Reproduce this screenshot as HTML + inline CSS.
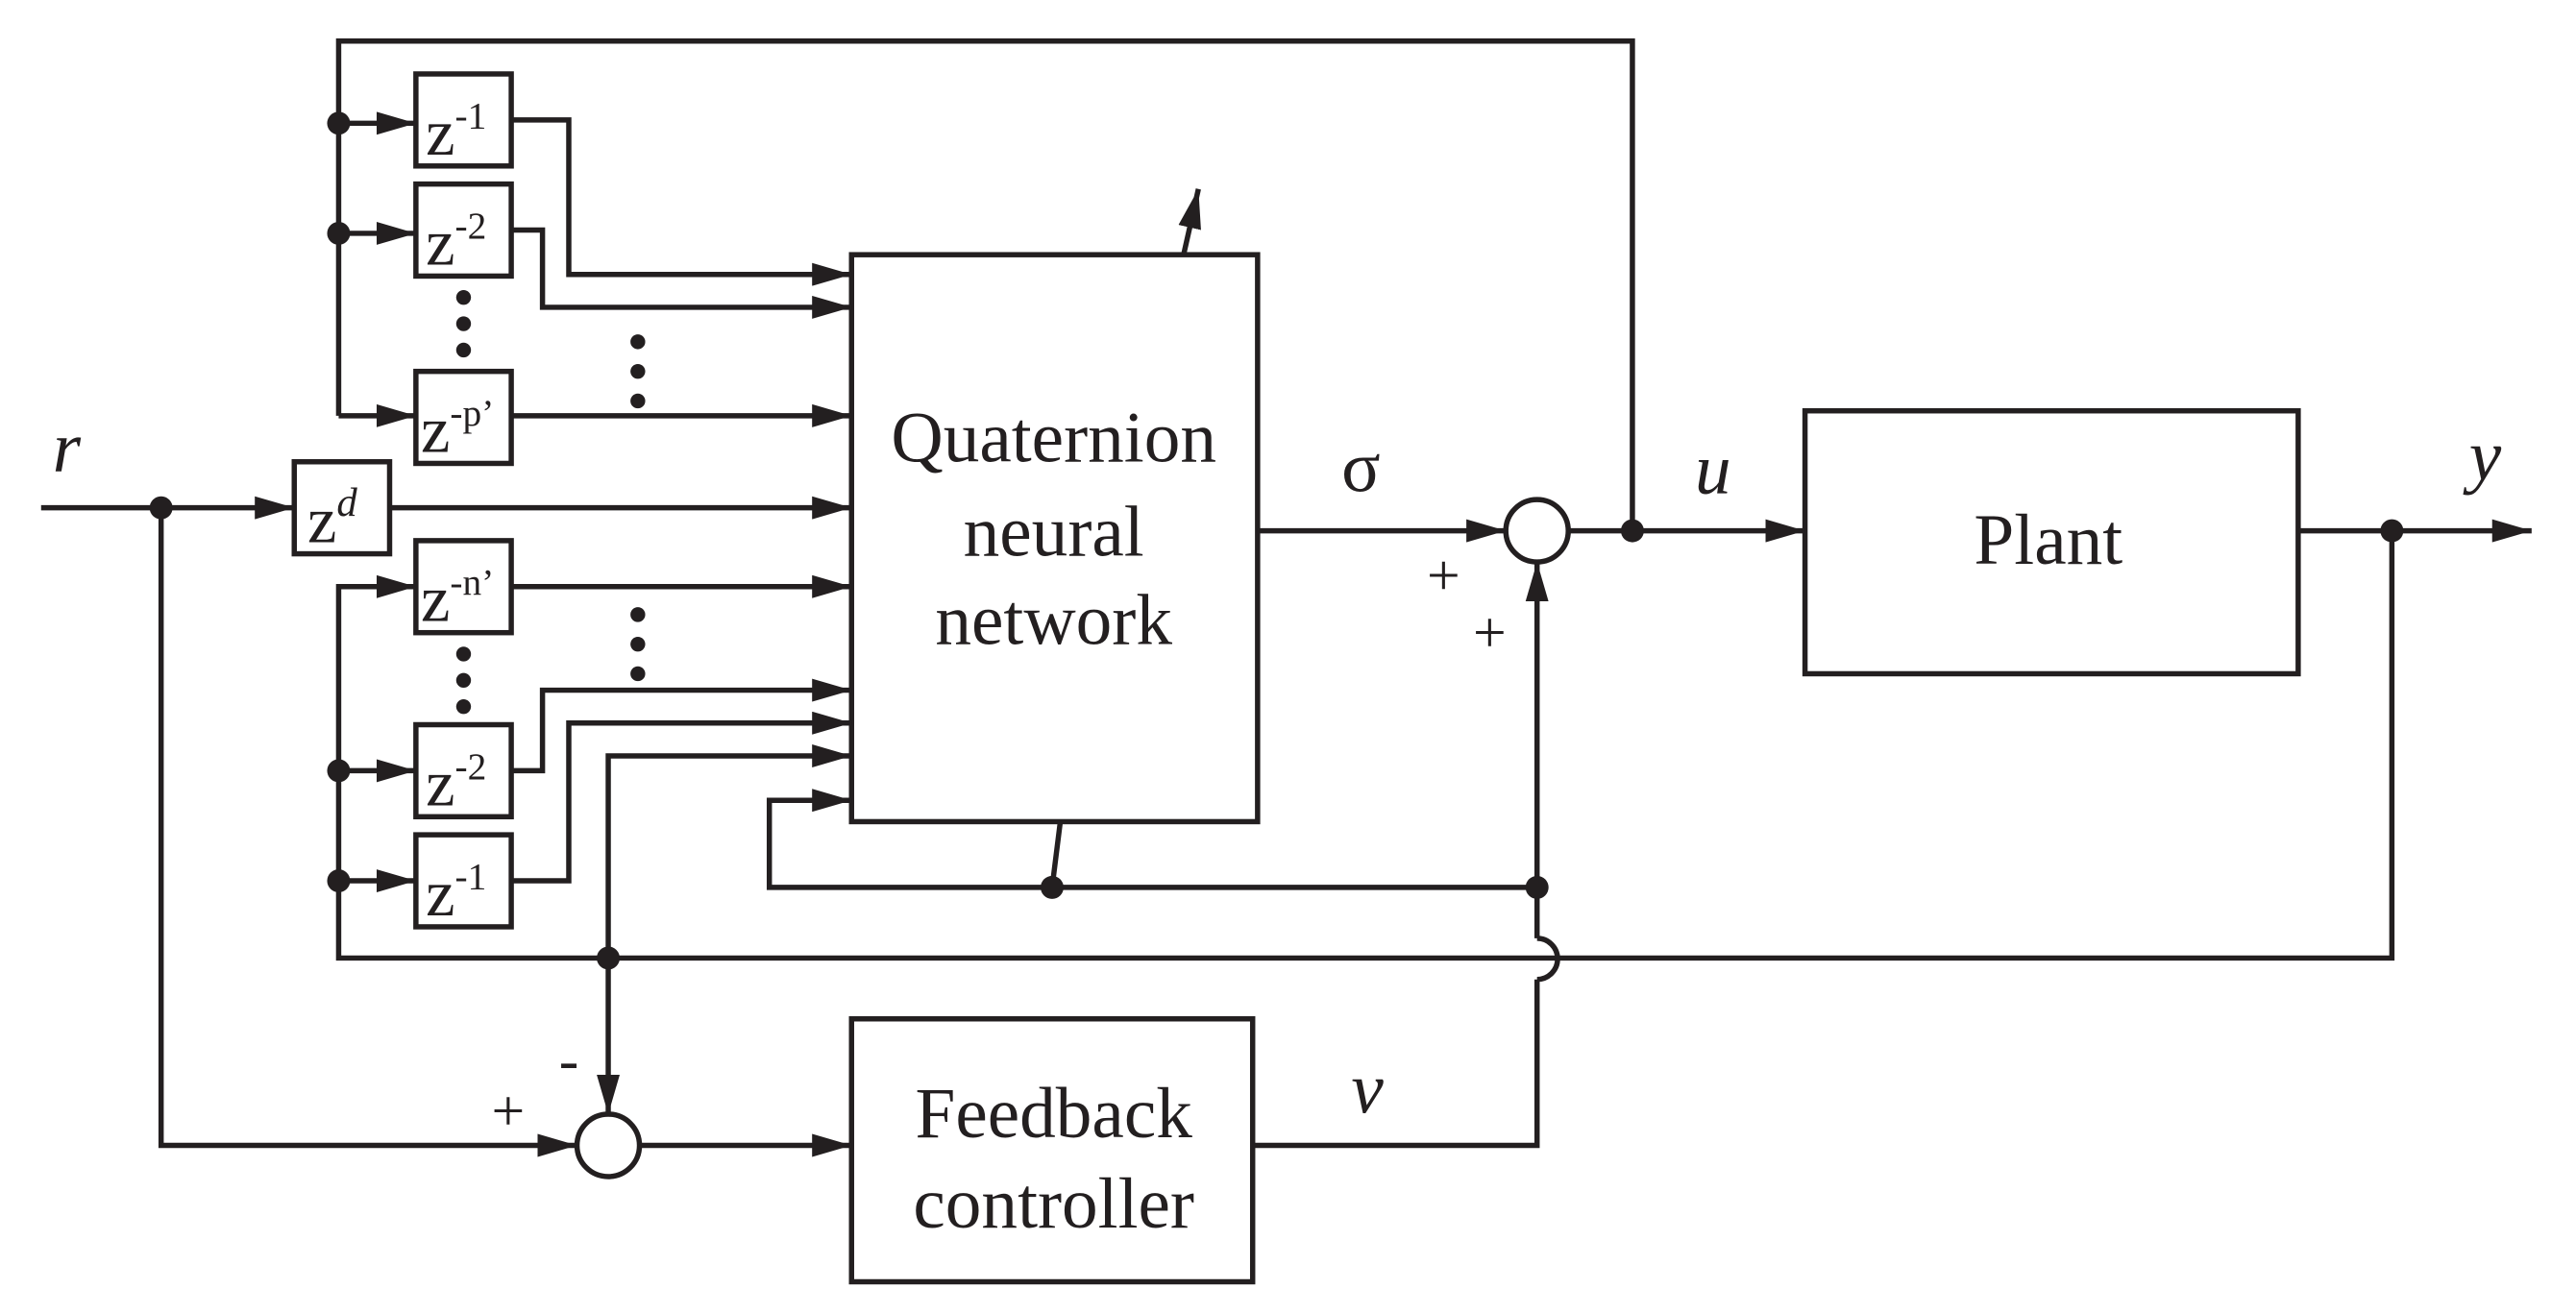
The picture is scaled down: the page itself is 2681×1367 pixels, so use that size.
<!DOCTYPE html>
<html><head><style>html,body{margin:0;padding:0;background:#fff}svg{display:block}</style></head>
<body>
<svg width="2681" height="1367" viewBox="0 0 1567 799" preserveAspectRatio="none" xmlns="http://www.w3.org/2000/svg">
<defs>
<marker id="b" markerWidth="24" markerHeight="14" refX="24" refY="7" orient="auto" markerUnits="userSpaceOnUse">
<path d="M0,0 L24,7 L0,14 z" fill="#231f20"/></marker>
</defs>
<g fill="none" stroke="#231f20" stroke-width="3.2">
<polyline points="206,253 206,25 993,25 993,323"/>
<polyline points="206,253 253,253" marker-end="url(#b)"/>
<line x1="206" y1="75" x2="253" y2="75" marker-end="url(#b)"/>
<line x1="206" y1="142" x2="253" y2="142" marker-end="url(#b)"/>
<rect x="253" y="45" width="58" height="56"/>
<rect x="253" y="112" width="58" height="56"/>
<rect x="253" y="226" width="58" height="56"/>
<rect x="179" y="281" width="58" height="56"/>
<rect x="253" y="329" width="58" height="56"/>
<rect x="253" y="441" width="58" height="56"/>
<rect x="253" y="508" width="58" height="56"/>
<rect x="518" y="155" width="247" height="345"/>
<rect x="518" y="620" width="244" height="160"/>
<rect x="1098" y="250" width="300" height="160"/>
<polyline points="311,73 346,73 346,167 518,167" marker-end="url(#b)"/>
<polyline points="311,140 330,140 330,187 518,187" marker-end="url(#b)"/>
<line x1="311" y1="253" x2="518" y2="253" marker-end="url(#b)"/>
<line x1="237" y1="309" x2="518" y2="309" marker-end="url(#b)"/>
<line x1="311" y1="357" x2="518" y2="357" marker-end="url(#b)"/>
<polyline points="311,469 330,469 330,420 518,420" marker-end="url(#b)"/>
<polyline points="311,536 346,536 346,440 518,440" marker-end="url(#b)"/>
<polyline points="370,583 370,460 518,460" marker-end="url(#b)"/>
<polyline points="935,540 468,540 468,487 518,487" marker-end="url(#b)"/>
<polyline points="253,357 206,357 206,583 1455,583 1455,323"/>
<line x1="206" y1="357" x2="253" y2="357" marker-end="url(#b)"/>
<line x1="206" y1="469" x2="253" y2="469" marker-end="url(#b)"/>
<line x1="206" y1="536" x2="253" y2="536" marker-end="url(#b)"/>
<line x1="25" y1="309" x2="179" y2="309" marker-end="url(#b)"/>
<polyline points="98,309 98,697 351,697" marker-end="url(#b)"/>
<line x1="370" y1="583" x2="370" y2="678" marker-end="url(#b)"/>
<circle cx="370" cy="697" r="19"/>
<line x1="389" y1="697" x2="518" y2="697" marker-end="url(#b)"/>
<polyline points="762,697 935,697 935,596"/>
<path d="M935,596 A12,12 0 0 0 935,571"/>
<line x1="935" y1="571" x2="935" y2="342" marker-end="url(#b)"/>
<circle cx="935" cy="323" r="19"/>
<line x1="765" y1="323" x2="916" y2="323" marker-end="url(#b)"/>
<line x1="954" y1="323" x2="1098" y2="323" marker-end="url(#b)"/>
<line x1="1398" y1="323" x2="1540" y2="323" marker-end="url(#b)"/>
<line x1="640" y1="540" x2="645" y2="500"/>
<line x1="720" y1="155" x2="729" y2="115" marker-end="url(#b)"/>
</g>
<g fill="#231f20">
<circle cx="206" cy="75" r="7"/><circle cx="206" cy="142" r="7"/>
<circle cx="206" cy="469" r="7"/><circle cx="206" cy="536" r="7"/>
<circle cx="98" cy="309" r="7"/><circle cx="370" cy="583" r="7"/>
<circle cx="640" cy="540" r="7"/><circle cx="935" cy="540" r="7"/>
<circle cx="993" cy="323" r="7"/><circle cx="1455" cy="323" r="7"/>
<circle cx="282" cy="181" r="4.5"/><circle cx="282" cy="197" r="4.5"/><circle cx="282" cy="213" r="4.5"/>
<circle cx="282" cy="398" r="4.5"/><circle cx="282" cy="414" r="4.5"/><circle cx="282" cy="430" r="4.5"/>
<circle cx="388" cy="208" r="4.5"/><circle cx="388" cy="226" r="4.5"/><circle cx="388" cy="244" r="4.5"/>
<circle cx="388" cy="374" r="4.5"/><circle cx="388" cy="392" r="4.5"/><circle cx="388" cy="410" r="4.5"/>
</g>
<g font-family="Liberation Serif, serif" fill="#231f20" font-size="40">
<text x="259" y="94">z<tspan font-size="23" dy="-16">-1</tspan></text>
<text x="259" y="161">z<tspan font-size="23" dy="-16">-2</tspan></text>
<text x="256" y="275">z<tspan font-size="23" dy="-16">-p’</tspan></text>
<text x="187" y="330">z<tspan font-size="25" dy="-16" font-style="italic">d</tspan></text>
<text x="256" y="378">z<tspan font-size="23" dy="-16">-n’</tspan></text>
<text x="259" y="490">z<tspan font-size="23" dy="-16">-2</tspan></text>
<text x="259" y="557">z<tspan font-size="23" dy="-16">-1</tspan></text>
<g font-size="44" text-anchor="middle">
<text x="641" y="281">Quaternion</text>
<text x="641" y="338">neural</text>
<text x="641" y="392">network</text>
<text x="641" y="692">Feedback</text>
<text x="641" y="747">controller</text>
<text x="1246" y="343">Plant</text>
</g>
<g font-size="44" font-style="italic">
<text x="32" y="287">r</text>
<text x="1502" y="292">y</text>
<text x="1031" y="300">u</text>
<text x="822" y="677">v</text>
</g>
<text x="816" y="299" font-size="44">σ</text>
<g font-size="36">
<text x="868" y="362">+</text>
<text x="896" y="397">+</text>
<text x="299" y="688">+</text>
<text x="340" y="657">-</text>
</g>
</g>
</svg>
</body></html>
